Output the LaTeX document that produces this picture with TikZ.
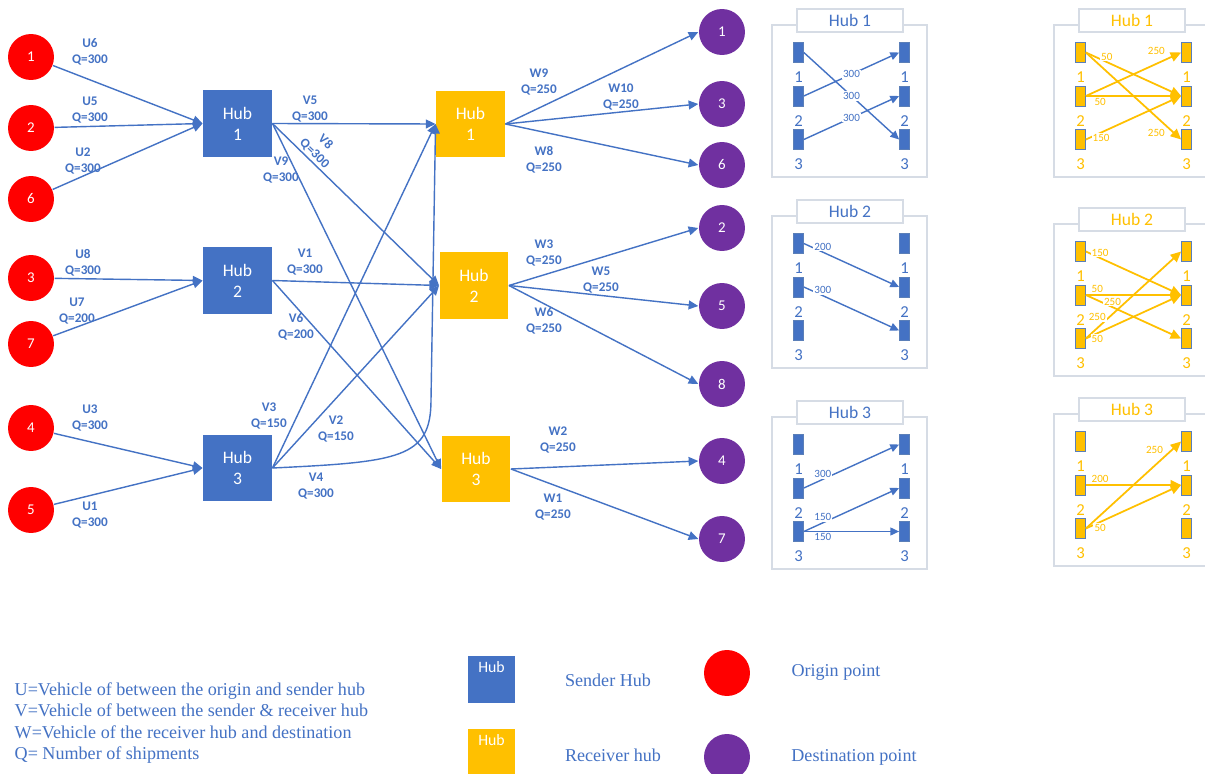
\documentclass[tikz,border=0pt]{standalone}
\usepackage{fontspec}
\setmainfont{Carlito}
\newfontfamily\legendfont{Liberation Serif}
\usepackage{tikz}
\usetikzlibrary{shapes}
\usetikzlibrary{positioning}
\usetikzlibrary{arrows.meta}

\definecolor{hubblue}{HTML}{4472C4}
\definecolor{hubyellow}{HTML}{FFC000}
\definecolor{origred}{HTML}{FF0000}
\definecolor{destpurple}{HTML}{7030A0}
\definecolor{panelgray}{HTML}{D6DCE5}
\definecolor{slotline}{HTML}{5B7FB8}

\begin{document}
\begin{tikzpicture}[
	x=0.02cm, y=-0.02cm,
	line width=0.8pt,
	font=\fontsize{7.5}{9}\selectfont
]
\tikzset{
    onode/.style = {circle, fill=origred, minimum size=0.92cm, inner sep=0pt, text=white, font=\fontsize{8.5}{10}\selectfont},
    dnode/.style = {onode, fill=destpurple},
    shub/.style = {rectangle, fill=hubblue, minimum width=1.37cm, minimum height=1.34cm, align=center, text=white, font=\fontsize{10}{12}\selectfont},
    rhub/.style = {shub, fill=hubyellow},
    edgeb/.style = {draw=hubblue, -{Triangle[length=5.5pt,width=5pt]}},
    elbl/.style = {align=center, text=hubblue, font=\bfseries\fontsize{7.5}{9}\selectfont, inner sep=0pt},
    pbox/.style = {draw=panelgray, line width=0.6pt},
    ptitle/.style = {draw=panelgray, fill=white, line width=0.6pt, minimum width=2.12cm, minimum height=0.46cm, inner sep=0pt, font=\fontsize{10}{12}\selectfont},
    slot/.style = {rectangle, minimum width=0.2cm, minimum height=0.4cm, inner sep=0pt, draw=slotline, line width=0.4pt},
    rowlbl/.style = {font=\fontsize{9.5}{11}\selectfont, inner sep=0pt},
    parrb/.style = {draw=hubblue, -{Triangle[length=5pt,width=4.5pt]}},
    parry/.style = {draw=hubyellow, line width=1pt, -{Triangle[length=6pt,width=5.5pt]}},
    plblb/.style = {text=hubblue, fill=white, inner sep=0.6pt, font=\fontsize{6.3}{7}\selectfont},
    plbly/.style = {plblb, text=hubyellow},
    legtext/.style = {text=hubblue, font=\legendfont\fontsize{10.3}{12.1}\selectfont, inner sep=0pt}
}
\useasboundingbox (0,0) rectangle (1205,774);
\fill[white] (0,0) rectangle (1205,774);
% origin points
\node[onode] at (31,57) (o1) {1};
\node[onode] at (31,128) (o2) {2};
\node[onode] at (31,199) (o6) {6};
\node[onode] at (31,278) (o3) {3};
\node[onode] at (31,344) (o7) {7};
\node[onode] at (31,428) (o4) {4};
\node[onode] at (31,510) (o5) {5};
% sender hubs
\node[shub] at (237.5,123.5) (s1) {Hub\\1};
\node[shub] at (237.5,280.5) (s2) {Hub\\2};
\node[shub] at (237.5,468) (s3) {Hub\\3};
% receiver hubs
\node[rhub] at (470.5,124) (r1) {Hub\\1};
\node[rhub] at (474,285.5) (r2) {Hub\\2};
\node[rhub] at (476,469) (r3) {Hub\\3};
% destination points
\node[dnode] at (722,32) (d1) {1};
\node[dnode] at (722,104) (d3) {3};
\node[dnode] at (722,165) (d6) {6};
\node[dnode] at (722,228) (d2) {2};
\node[dnode] at (722,306) (d5) {5};
\node[dnode] at (722,384) (d8) {8};
\node[dnode] at (722,461) (d4) {4};
\node[dnode] at (722,539) (d7) {7};
%
\draw[edgeb] (o1) -- (s1.west);
\draw[edgeb] (o2) -- (s1.west);
\draw[edgeb] (o6) -- (s1.west);
\draw[edgeb] (o3) -- (s2.west);
\draw[edgeb] (o7) -- (s2.west);
\draw[edgeb] (o4) -- (s3.west);
\draw[edgeb] (o5) -- (s3.west);
%
\draw[edgeb] (s1.east) -- (r1.west);
\draw[edgeb] (s1.east) -- (r2.west);
\draw[edgeb] (s1.east) -- (r3.west);
\draw[edgeb] (s2.east) -- (r2.west);
\draw[edgeb] (s2.east) -- (r3.west);
\draw[edgeb] (s3.east) -- (r1.west);
\draw[edgeb] (s3.east) -- (r2.west);
\draw[edgeb] (s3.east) .. controls (400,462) and (431,458) .. (431,400) -- (r1.west);
%
\draw[edgeb] (r1.east) -- (d1.west);
\draw[edgeb] (r1.east) -- (d3.west);
\draw[edgeb] (r1.east) -- (d6.west);
\draw[edgeb] (r2.east) -- (d2.west);
\draw[edgeb] (r2.east) -- (d5.west);
\draw[edgeb] (r2.east) -- (d8.west);
\draw[edgeb] (r3.east) -- (d4.west);
\draw[edgeb] (r3.east) -- (d7.west);
% vehicle labels
\node[elbl] at (90,52) (lu6) {U6\\Q=300};
\node[elbl] at (90,110) (lu5) {U5\\Q=300};
\node[elbl] at (83,161) (lu2) {U2\\Q=300};
\node[elbl] at (83,263) (lu8) {U8\\Q=300};
\node[elbl] at (77,311) (lu7) {U7\\Q=200};
\node[elbl] at (90,418) (lu3) {U3\\Q=300};
\node[elbl] at (90,515) (lu1) {U1\\Q=300};
\node[elbl] at (310,109) (lv5) {V5\\Q=300};
\node[elbl, rotate=-44] at (320,148) (lv8) {V8\\Q=300};
\node[elbl] at (281,170) (lv9) {V9\\Q=300};
\node[elbl] at (305,262) (lv1) {V1\\Q=300};
\node[elbl] at (296,327) (lv6) {V6\\Q=200};
\node[elbl] at (269,416) (lv3) {V3\\Q=150};
\node[elbl] at (336,429) (lv2) {V2\\Q=150};
\node[elbl] at (316,486) (lv4) {V4\\Q=300};
\node[elbl] at (539,82) (lw9) {W9\\Q=250};
\node[elbl] at (621,97) (lw10) {W10\\Q=250};
\node[elbl] at (544,160) (lw8) {W8\\Q=250};
\node[elbl] at (544,253) (lw3) {W3\\Q=250};
\node[elbl] at (601,280) (lw5) {W5\\Q=250};
\node[elbl] at (544,321) (lw6) {W6\\Q=250};
\node[elbl] at (558,440) (lw2) {W2\\Q=250};
\node[elbl] at (553,507) (lw1) {W1\\Q=250};
% hub panels
\foreach \pn/\hn/\px/\py/\pc in {B1/1/772/25/hubblue, B2/2/772/216/hubblue, B3/3/772/417/hubblue, Y1/1/1054/25/hubyellow, Y2/2/1054/224/hubyellow, Y3/3/1054/414/hubyellow} {
  \draw[pbox] (\px,\py) rectangle ++(155,152);
  \node[ptitle, text=\pc] (\pn t) at (\px+78,\py-4.5) {Hub \hn};
  \foreach \i/\dy in {1/27.5,2/71,3/114.5} {
    \node[slot, fill=\pc] (\pn l\i) at (\px+26.5,\py+\dy) {};
    \node[slot, fill=\pc] (\pn r\i) at (\px+132.5,\py+\dy) {};
    \node[rowlbl, text=\pc] (\pn ln\i) at (\px+26.5,\py+\dy+25) {\i};
    \node[rowlbl, text=\pc] (\pn rn\i) at (\px+132.5,\py+\dy+25) {\i};
  }
}
% sender hub flows
\draw[parrb] (B1l1.east) -- node[plblb] {300} (B1r3.west);
\draw[parrb] (B1l2.east) -- node[plblb] {300} (B1r1.west);
\draw[parrb] (B1l3.east) -- node[plblb] {300} (B1r2.west);
\draw[parrb] (B2l1.east) -- node[plblb, pos=0.2, above] {200} (B2r2.west);
\draw[parrb] (B2l2.east) -- node[plblb, pos=0.2, above] {300} (B2r3.west);
\draw[parrb] (B3l2.east) -- node[plblb, pos=0.2, above] {300} (B3r1.west);
\draw[parrb] (B3l3.east) -- node[plblb, pos=0.2, above] {150} (B3r2.west);
\draw[parrb] (B3l3.east) -- node[plblb, pos=0.2, below] {150} (B3r3.west);
% receiver hub flows
\draw[parry] (Y1l1.east) -- node[plbly, pos=0.22, above] {50} (Y1r2.west);
\draw[parry] (Y1l1.east) -- node[plbly, pos=0.74, below=6pt] {250} (Y1r3.west);
\draw[parry] (Y1l2.east) -- node[plbly, pos=0.74, above=4pt] {250} (Y1r1.west);
\draw[parry] (Y1l2.east) -- node[plbly, pos=0.15, below] {50} (Y1r2.west);
\draw[parry] (Y1l3.east) -- node[plbly, pos=0.16, below] {150} (Y1r2.west);
\draw[parry] (Y2l1.east) -- node[plbly, pos=0.15, above] {150} (Y2r2.west);
\draw[parry] (Y2l2.east) -- node[plbly, pos=0.12, above] {50} (Y2r2.west);
\draw[parry] (Y2l2.east) -- node[plbly, pos=0.28, above] {250} (Y2r3.west);
\draw[parry] (Y2l3.east) -- node[plbly, pos=0.12, above=3pt] {250} (Y2r1.west);
\draw[parry] (Y2l3.east) -- node[plbly, pos=0.12, below] {50} (Y2r2.west);
\draw[parry] (Y3l2.east) -- node[plbly, pos=0.15, above] {200} (Y3r2.west);
\draw[parry] (Y3l3.east) -- node[plbly, pos=0.72, above=6pt] {250} (Y3r1.west);
\draw[parry] (Y3l3.east) -- node[plbly, pos=0.15, below] {50} (Y3r2.west);
% legend
\node[legtext, anchor=west, align=left] at (14,723) (keytext) {U=Vehicle of between the origin and sender hub\\V=Vehicle of between the sender \& receiver hub\\W=Vehicle of the receiver hub and destination\\Q= Number of shipments};
\node[shub, minimum width=0.94cm, minimum height=0.94cm] at (491.5,679.5) (ks) {};
\node[text=white, font=\fontsize{9}{10}\selectfont, anchor=north] at (ks.north) (kst) {Hub};
\node[rhub, minimum width=0.94cm, minimum height=0.94cm] at (491.5,752) (kr) {};
\node[text=white, font=\fontsize{9}{10}\selectfont, anchor=north] at (kr.north) (krt) {Hub};
\node[legtext] at (608,680) (ksl) {Sender Hub};
\node[legtext] at (613,755) (krl) {Receiver hub};
\node[onode] at (727,673) (ko) {};
\node[dnode] at (727,757) (kd) {};
\node[legtext] at (836,672) (kol) {Origin point};
\node[legtext] at (854,757) (kdl) {Destination point};
\end{tikzpicture}
\end{document}
